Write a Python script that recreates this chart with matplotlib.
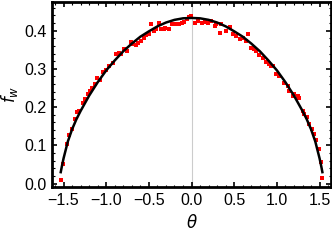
import matplotlib
matplotlib.use("Agg")
import matplotlib.pyplot as plt
from matplotlib.ticker import MultipleLocator

# black fitted curve
curve_theta = [-1.533, -1.52, -1.50, -1.45, -1.40, -1.35, -1.30, -1.20, -1.10, -1.00,
               -0.90, -0.80, -0.70, -0.60, -0.50, -0.40, -0.30, -0.20, -0.10, 0.00,
               0.10, 0.20, 0.30, 0.40, 0.50, 0.60, 0.70, 0.80, 0.90, 1.00,
               1.10, 1.20, 1.30, 1.35, 1.40, 1.45, 1.50, 1.52, 1.533]
curve_f = [0.030, 0.045, 0.066, 0.110, 0.142, 0.168, 0.190, 0.230, 0.265, 0.296,
           0.322, 0.346, 0.366, 0.384, 0.398, 0.411, 0.421, 0.428, 0.432, 0.433,
           0.432, 0.428, 0.421, 0.411, 0.398, 0.384, 0.366, 0.346, 0.322, 0.296,
           0.265, 0.230, 0.190, 0.168, 0.142, 0.110, 0.066, 0.045, 0.030]

# red sample points
pts_theta = [-1.531, -1.508, -1.462, -1.431, -1.404, -1.365, -1.338, -1.315, -1.277, -1.250,
             -1.212, -1.192, -1.162, -1.135, -1.108, -1.077, -1.038, -1.008, -0.962, -0.923,
             -0.885, -0.854, -0.827, -0.788, -0.762, -0.712, -0.685, -0.654, -0.623, -0.596,
             -0.558, -0.531, -0.500, -0.473, -0.442, -0.415, -0.385, -0.354, -0.327, -0.308,
             -0.269, -0.231, -0.200, -0.173, -0.146, -0.115, -0.085, -0.058, -0.031, -0.008,
             0.038, 0.077, 0.117, 0.155, 0.194, 0.233, 0.272, 0.291, 0.330, 0.350,
             0.408, 0.446, 0.485, 0.524, 0.563, 0.602, 0.641, 0.660, 0.699, 0.726,
             0.758, 0.796, 0.835, 0.874, 0.913, 0.932, 0.959, 0.991, 1.029, 1.087,
             1.126, 1.146, 1.184, 1.204, 1.242, 1.262, 1.301, 1.321, 1.348, 1.379,
             1.410, 1.437, 1.457, 1.495, 1.515, 1.534]
pts_f = [0.009, 0.052, 0.104, 0.126, 0.143, 0.169, 0.186, 0.190, 0.212, 0.221,
         0.235, 0.242, 0.249, 0.260, 0.275, 0.270, 0.293, 0.296, 0.307, 0.316,
         0.338, 0.342, 0.339, 0.351, 0.346, 0.371, 0.365, 0.362, 0.368, 0.374,
         0.381, 0.388, 0.390, 0.416, 0.398, 0.403, 0.420, 0.404, 0.403, 0.407,
         0.403, 0.417, 0.416, 0.417, 0.416, 0.420, 0.423, 0.429, 0.435, 0.437,
         0.420, 0.424, 0.420, 0.422, 0.420, 0.426, 0.411, 0.417, 0.394, 0.416,
         0.400, 0.409, 0.391, 0.385, 0.379, 0.381, 0.372, 0.390, 0.355, 0.351,
         0.346, 0.336, 0.329, 0.318, 0.312, 0.307, 0.307, 0.286, 0.281, 0.264,
         0.255, 0.242, 0.229, 0.234, 0.229, 0.225, 0.190, 0.183, 0.173, 0.156,
         0.143, 0.130, 0.114, 0.091, 0.056, 0.016]

x_ticks = [-1.5, -1.0, -0.5, 0.0, 0.5, 1.0, 1.5]
y_ticks = [0.0, 0.1, 0.2, 0.3, 0.4]

plt.rcParams['font.family'] = ['Liberation Sans', 'DejaVu Sans']
plt.rcParams['mathtext.fontset'] = 'dejavusans'

fig = plt.figure(figsize=(3.32, 2.41), dpi=100)
ax = fig.add_axes([0.157, 0.223, 0.84, 0.77])

ax.axvline(0, color='#cccccc', lw=0.8, zorder=0)
ax.plot(pts_theta, pts_f, 's', color='red', ms=2.2, mew=0, zorder=2)
ax.plot(curve_theta, curve_f, color='black', lw=1.8, zorder=3)

ax.set_xlim(-1.634, 1.634)
ax.set_ylim(-0.0095, 0.4755)
ax.set_xticks(x_ticks)
ax.set_yticks(y_ticks)
ax.set_xticklabels([f"{t:.1f}".replace('-', '\u2212') for t in x_ticks])
ax.set_yticklabels([f"{t:.1f}" for t in y_ticks])
ax.xaxis.set_minor_locator(MultipleLocator(0.1))
ax.yaxis.set_minor_locator(MultipleLocator(0.02))

ax.tick_params(which='both', direction='in', top=True, right=True, labelsize=11.5)
ax.tick_params(which='major', length=3.5, width=1.2, pad=4)
ax.tick_params(which='minor', length=1.8, width=0.8)
for s in ax.spines.values():
    s.set_linewidth(2)

ax.set_xlabel(r'$\theta$', fontsize=12, labelpad=4)
ax.set_ylabel(r'$f_w$', fontsize=12, labelpad=3)

fig.savefig('out.png', dpi=100)
